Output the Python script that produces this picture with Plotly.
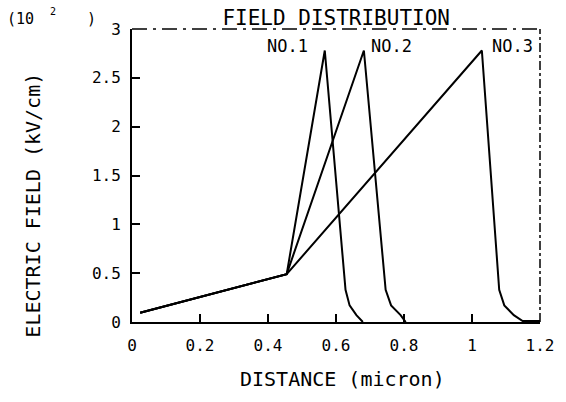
import plotly.graph_objects as go

# ---- data ----
common_x = [0.024, 0.455]
common_y = [0.095, 0.49]

no1_x = [0.567, 0.628, 0.640, 0.660, 0.679]
no1_y = [2.78, 0.33, 0.17, 0.07, 0.0]

no2_x = [0.682, 0.746, 0.762, 0.790, 0.805]
no2_y = [2.78, 0.33, 0.17, 0.07, 0.0]

no3_x = [1.029, 1.080, 1.095, 1.123, 1.149, 1.200]
no3_y = [2.78, 0.33, 0.17, 0.07, 0.01, 0.01]

series_names = ["NO.1", "NO.2", "NO.3"]
label_x = [0.458, 0.762, 1.118]
label_y = [2.83, 2.83, 2.83]

x_ticks = [0, 0.2, 0.4, 0.6, 0.8, 1.0, 1.2]
x_ticktext = ["0", "0.2", "0.4", "0.6", "0.8", "1", "1.2"]
y_ticks = [0, 0.5, 1, 1.5, 2, 2.5, 3]
y_ticktext = ["0", "0.5", "1", "1.5", "2", "2.5", "3"]

MONO = "DejaVu Sans Mono"

fig = go.Figure()
for name, xs, ys in zip(series_names, [no1_x, no2_x, no3_x], [no1_y, no2_y, no3_y]):
    fig.add_trace(go.Scatter(
        x=common_x + xs, y=common_y + ys, mode="lines", name=name,
        line=dict(color="black", width=2), showlegend=False))

for name, lx, ly in zip(series_names, label_x, label_y):
    fig.add_annotation(x=lx, y=ly, text=name, showarrow=False,
                       font=dict(family=MONO, size=17, color="black"),
                       xanchor="center", yanchor="middle")

# exponent marker at top-left: "(10  2 )"
fig.add_annotation(xref="paper", yref="paper", x=-0.312, y=1.035,
                   text="(10", showarrow=False,
                   font=dict(family=MONO, size=15, color="black"),
                   xanchor="left", yanchor="middle")
fig.add_annotation(xref="paper", yref="paper", x=-0.205, y=1.06,
                   text="2", showarrow=False,
                   font=dict(family=MONO, size=10, color="black"),
                   xanchor="left", yanchor="middle")
fig.add_annotation(xref="paper", yref="paper", x=-0.115, y=1.035,
                   text=")", showarrow=False,
                   font=dict(family=MONO, size=15, color="black"),
                   xanchor="left", yanchor="middle")

# axis titles
fig.add_annotation(xref="paper", yref="paper", x=0.515, y=-0.195,
                   text="DISTANCE (micron)", showarrow=False,
                   font=dict(family=MONO, size=20, color="black"),
                   xanchor="center", yanchor="middle")
fig.add_annotation(xref="paper", yref="paper", x=-0.243, y=0.40,
                   text="ELECTRIC FIELD (kV/cm)", showarrow=False, textangle=-90,
                   font=dict(family=MONO, size=20, color="black"),
                   xanchor="center", yanchor="middle")

# dashed top and right frame
fig.add_shape(type="line", xref="paper", yref="paper", x0=0, x1=1, y0=1, y1=1,
              line=dict(color="black", width=1.5, dash="longdashdot"))
fig.add_shape(type="line", xref="paper", yref="paper", x0=1, x1=1, y0=0, y1=1,
              line=dict(color="black", width=1.5, dash="dashdot"))

fig.update_layout(
    width=566, height=402,
    margin=dict(l=131.5, r=16.3, t=29, b=80),
    paper_bgcolor="white", plot_bgcolor="white",
    title=dict(text="FIELD DISTRIBUTION", x=0.594, xanchor="center",
               y=0.955, yanchor="middle",
               font=dict(family=MONO, size=21, color="black")),
    xaxis=dict(range=[0, 1.2], tickvals=x_ticks, ticktext=x_ticktext,
               ticks="inside", ticklen=8, tickwidth=1.5, tickcolor="black",
               showline=True, linecolor="black", linewidth=2, mirror=False,
               showgrid=False, zeroline=False, ticklabelstandoff=8,
               tickfont=dict(family=MONO, size=16, color="black")),
    yaxis=dict(range=[0, 3], tickvals=y_ticks, ticktext=y_ticktext,
               ticks="inside", ticklen=8, tickwidth=1.5, tickcolor="black",
               showline=True, linecolor="black", linewidth=2, mirror=False,
               showgrid=False, zeroline=False, ticklabelstandoff=6,
               tickfont=dict(family=MONO, size=16, color="black")),
)

fig.write_html("out.html")
